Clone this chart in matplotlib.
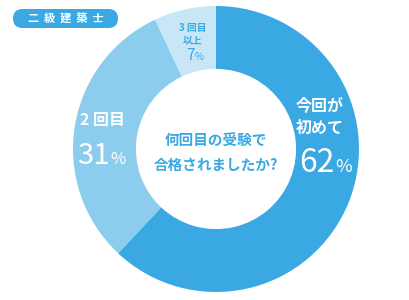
import matplotlib.pyplot as plt
from matplotlib.patches import FancyBboxPatch

plt.rcParams['font.family'] = ['Noto Sans CJK JP', 'DejaVu Sans']

# Data
labels = ['今回が初めて', '2回目', '3回目以上']
shares = [62, 31, 7]
colors = ['#3aa8e2', '#8ccdee', '#c9e6f7']
title = '二級建築士'
question = '何回目の受験で\n合格されましたか?'

BLUE = '#3aa8e2'

fig = plt.figure(figsize=(4.1, 3.0), dpi=100)
ax = fig.add_axes([0, 0, 1, 1])

# donut, pixel coordinates (y up)
R = 143
ax.pie(shares, colors=colors, startangle=90, counterclock=False,
       center=(216, 151), radius=R, frame=True,
       wedgeprops=dict(width=R * 0.44, linewidth=0))
ax.set_xlim(0, 410)
ax.set_ylim(0, 300)
ax.set_aspect('equal')
ax.axis('off')

# badge
badge = FancyBboxPatch((22.5, 281.5), 86, 0, boxstyle='round,pad=9.5,rounding_size=9.5',
                       fc=BLUE, ec='none')
ax.add_patch(badge)
ax.text(65.5, 281, '  '.join(title), color='white', fontsize=8, fontweight='bold',
        ha='center', va='center')

# centre question
ax.text(216, 147, question, color=BLUE, fontsize=10.5, fontweight='bold',
        ha='center', va='center', linespacing=1.6)

# 62%
ax.text(320, 183, '今回が\n初めて', color='white', fontsize=11.5, fontweight='bold',
        ha='center', va='center', linespacing=1.5)
ax.text(335, 137, f'{shares[0]}', color='white', fontsize=23, ha='right', va='center')
ax.text(335, 133, '%', color='white', fontsize=13, ha='left', va='center')

# 31%
ax.text(103, 180, '2 回目', color='white', fontsize=11.5, fontweight='bold',
        ha='center', va='center')
ax.text(110, 144, f'{shares[1]}', color='white', fontsize=21, ha='right', va='center')
ax.text(110, 140, '%', color='white', fontsize=12, ha='left', va='center')

# 7%
ax.text(193, 266, '3 回目\n以上', color=BLUE, fontsize=7, fontweight='bold',
        ha='center', va='center', linespacing=1.3)
ax.text(195, 244, f'{shares[2]}', color=BLUE, fontsize=11, ha='right', va='center')
ax.text(195, 243, '%', color=BLUE, fontsize=7, ha='left', va='center')

fig.savefig('out.png', dpi=100)
